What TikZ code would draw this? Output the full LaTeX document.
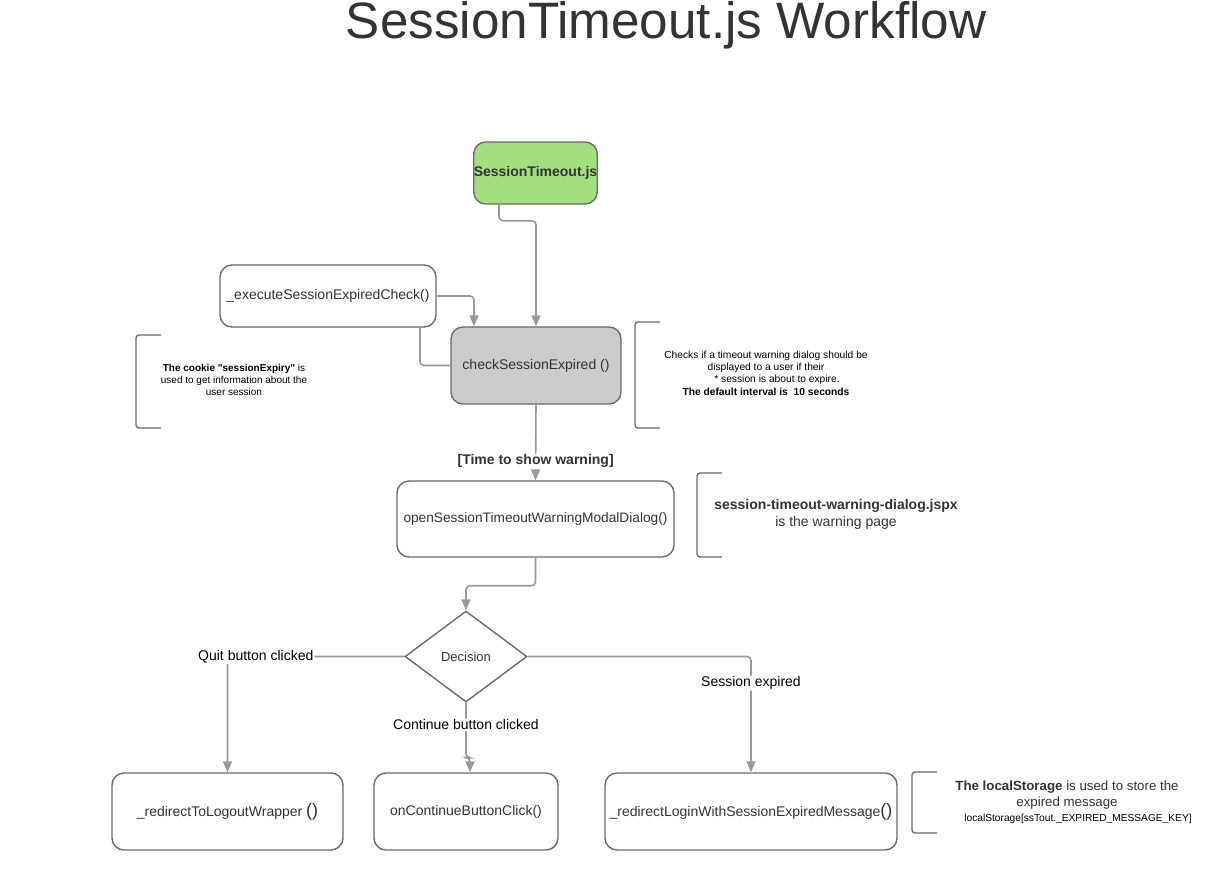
\documentclass[tikz,border=0pt]{standalone}
\usepackage{fontspec}
\setmainfont{Liberation Sans}
\newfontfamily\qfont{Liberation Sans}
\usepackage{tikz}
\usetikzlibrary{shapes.geometric, arrows.meta, positioning}

\definecolor{edgegray}{HTML}{999999}
\definecolor{boxborder}{HTML}{6B6B6B}
\definecolor{txtgray}{HTML}{333333}
\definecolor{jsgreen}{HTML}{A1DF7F}
\definecolor{checkgray}{HTML}{CCCCCC}

\newcommand{\fs}[1]{\fontsize{#1pt}{\dimexpr #1pt*6/5\relax}\selectfont}
\newcommand{\sq}{{\qfont"}}
\newcommand{\notebracket}[3]{% x, top, bottom
  \draw[bracket] (#1+25,#2) -- (#1,#2) -- (#1,#3) -- (#1+25,#3);}

\begin{document}
\begin{tikzpicture}[
        x=1pt, y=-1pt,
        >={Triangle[length=11pt,width=9pt]},
        box/.style={draw=boxborder, line width=1.4pt, rectangle, rounded corners=12pt, align=center, inner sep=0pt, text=txtgray, font=\fs{14}},
        flow/.style={draw=edgegray, line width=1.6pt, rounded corners=4pt},
        lbl/.style={fill=white, text=black, font=\fs{14}, inner sep=1pt},
        note/.style={align=center, text=black, inner sep=0pt},
        bracket/.style={draw=boxborder, line width=1.4pt, rounded corners=3pt}
    ]
        \useasboundingbox[fill=white] (0,0) rectangle (1232,889);

        % Title
        \node[text=txtgray, font=\fs{51.2}] (title) at (666,25) {SessionTimeout.js Workflow};

        % Top Row
        \node[box, fill=jsgreen, minimum width=123pt, minimum height=62pt, font=\bfseries\fs{14}] (start) at (535.5,173) {SessionTimeout.js};
        \node[box, fill=white, minimum width=216pt, minimum height=62pt] (execcheck) at (328,296) {\_executeSessionExpiredCheck()};
        \node[box, fill=checkgray, minimum width=170pt, minimum height=77pt] (checkexp) at (536,365.5) {checkSessionExpired ()};

        % Middle Row
        \node[box, fill=white, minimum width=277pt, minimum height=76pt, font=\fs{13.7}] (opendlg) at (535.5,519) {\raisebox{-5pt}{openSessionTimeoutWarningModalDialog()}};
        \node[draw=boxborder, line width=1.4pt, diamond, aspect=1.34, minimum width=122pt, minimum height=91pt, inner sep=0pt, text=txtgray, font=\fs{13}] (decision) at (466,656.5) {Decision};

        % Bottom Row
        \node[box, fill=white, minimum width=231pt, minimum height=77pt] (logout) at (227.5,811.5) {\_redirectToLogoutWrapper {\fs{18}()}};
        \node[box, fill=white, minimum width=184pt, minimum height=77pt] (contclick) at (466,811.5) {\raisebox{2pt}{onContinueButtonClick()}};
        \node[box, fill=white, minimum width=292pt, minimum height=77pt] (loginmsg) at (751,811.5) {\_redirectLoginWithSessionExpiredMessage{\fs{18}()}};

        % Notes
        \notebracket{136}{335}{428}
        \node[note, font=\fs{10}] (cookienote) at (234,380) {\textbf{The cookie \sq sessionExpiry\sq} is\\used to get information about the\\user session};
        \notebracket{635}{322}{428}
        \node[note, font=\fs{10.25}] (checknote) at (766,373) {Checks if a timeout warning dialog should be\\displayed to a user if their\\\hspace*{22pt}* session is about to expire.\\\textbf{The default interval is\ \ 10 seconds}};
        \notebracket{697}{473}{557}
        \node[note, font=\fs{14}, text=txtgray] (jspxnote) at (836,514) {\textbf{session-timeout-warning-dialog.jspx}\\is the warning page};
        \notebracket{912}{772}{833}
        \node[note, font=\fs{13.3}, text=txtgray] (storagenote) at (1067,795) {\textbf{The localStorage} is used to store the\\expired message};
        \node[note, font=\fs{10.2}, text=black] (storagekey) at (1078,819) {localStorage[ssTout.\_EXPIRED\_MESSAGE\_KEY]};

        % Arrows
        \draw[flow, ->] ([xshift=-36.5pt]start.south) -- ++(0,16) -| (checkexp.north);
        \draw[flow, ->] (execcheck.east) -| ([xshift=-62pt]checkexp.north);
        \draw[flow] ([xshift=92pt]execcheck.south) |- (checkexp.west);
        \draw[flow, ->] (checkexp.south) -- node[lbl, pos=0.75, font=\bfseries\fs{14}, text=txtgray] {[Time to show warning]} (opendlg.north);
        \draw[flow, ->] (opendlg.south) -- ++(0,28) -| (decision.north);

        % Decision branches
        \draw[flow, ->] (decision.west) -| node[lbl, pos=0.42] {Quit button clicked} (logout.north);
        \draw[flow, ->] (decision.south) -- node[lbl, pos=0.4] {Continue button clicked} ++(0,55) -| ([xshift=4pt]contclick.north);
        \draw[flow, ->] (decision.east) -| node[lbl, pos=0.615] {Session expired} (loginmsg.north);

    \end{tikzpicture}
\end{document}
